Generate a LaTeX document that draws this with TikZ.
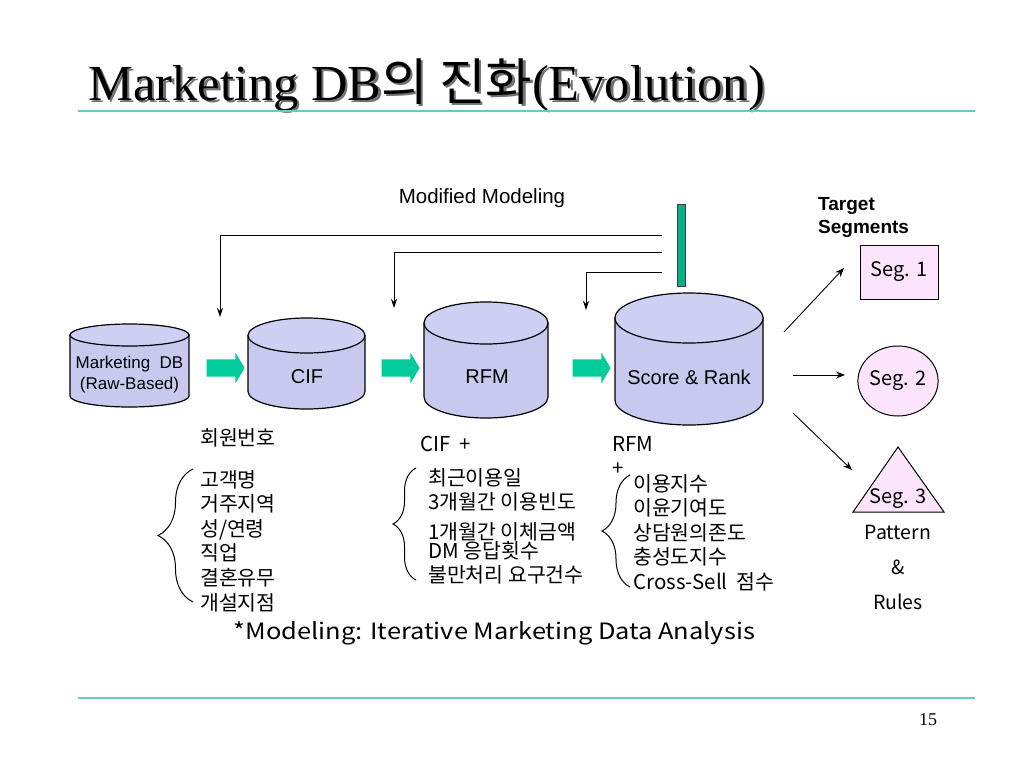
\documentclass[tikz,border=0pt]{standalone}
\usepackage{graphicx}
\usepackage{fontspec}
\setmainfont{Liberation Sans}
\newfontfamily\krfont{Noto Sans CJK KR}
\newfontfamily\serifttl{Liberation Serif}
\usetikzlibrary{arrows.meta,positioning,shapes.geometric,shapes.arrows,decorations.pathreplacing}
\definecolor{ruleteal}{HTML}{66CCC0}
\definecolor{drumside}{HTML}{C9C9F0}
\definecolor{drumlight}{HTML}{EAEAFC}
\definecolor{drumtop}{HTML}{CFCFF3}
\definecolor{flowgreen}{HTML}{00CC99}
\definecolor{barteal}{HTML}{00B383}
\definecolor{segpink}{HTML}{FCE4FC}
\newcommand{\kr}[1]{{\krfont #1}}
\newcommand{\ttltext}{Marketing DB\kr{의 진화}(Evolution)}
% #1 centre x, #2 top y, #3 bottom y, #4 half width, #5 end radius
\newcommand{\drum}[5]{%
  \path[drumline,left color=drumside,middle color=drumlight,right color=drumside]
    (#1-#4,#2-#5) -- (#1-#4,#3+#5) arc[start angle=180,end angle=360,x radius=#4,y radius=#5] -- (#1+#4,#2-#5) -- cycle;
  \path[drumline,fill=drumtop] (#1,#2-#5) ellipse[x radius=#4,y radius=#5];}

\begin{document}
\begin{tikzpicture}[x=1pt,y=1pt,
    drumline/.style={draw=black,line width=1.2pt},
    drumlbl/.style={font=\fontsize{20}{21}\selectfont,align=center,inner sep=0pt},
    flow/.style={single arrow,fill=flowgreen,inner xsep=0pt,inner ysep=8.5pt,minimum height=38pt,
      single arrow head extend=6.5pt,single arrow tip angle=118},
    arr/.style={-{Stealth[length=9pt,width=7pt]},line width=0.9pt},
    fback/.style={-{Stealth[length=9pt,width=6pt]},line width=1pt},
    list/.style={font=\krfont\fontsize{20.5}{24.6}\selectfont,align=left,anchor=north west,inner sep=0pt},
    seg/.style={draw,line width=1pt,fill=segpink,font=\krfont\fontsize{20}{20}\selectfont,inner sep=0pt},
    brc/.style={decorate,decoration={brace,amplitude=#1},line width=1pt}
  ]
  \useasboundingbox (0,0) rectangle (1024,-768);
  \fill[white] (0,0) rectangle (1024,-768);

  \node[anchor=base west,inner sep=0pt,font=\serifttl\fontsize{50.5}{51}\selectfont] (title) at (88,-100)
    {\makebox[0pt][l]{\hspace{2.5pt}\raisebox{-2.5pt}{\color{black!55}\ttltext}}\ttltext};
  \draw[ruleteal,line width=2pt] (78,-111) -- (975,-111);

  \drum{129.5}{-324}{-407}{59.5}{11}
  \drum{306.5}{-318}{-409}{58.5}{17.5}
  \drum{486}{-302}{-418}{62}{21}
  \drum{689}{-293}{-425}{74}{25}
  \node[drumlbl,font=\fontsize{17}{21}\selectfont] (mdb) at (129.5,-374.5) {Marketing\ \ DB\\(Raw-Based)};
  \node[drumlbl] (cif) at (307,-377) {CIF};
  \node[drumlbl] (rfm) at (487,-377) {RFM};
  \node[drumlbl] (score) at (689,-377) {Score \& Rank};

  \node[flow] (go1) at (223,-368) {};
  \node[flow] (go2) at (398,-368) {};
  \node[flow] (go3) at (589,-368) {};

  \node[draw=black!75,line width=0.8pt,fill=barteal,minimum width=8pt,minimum height=82pt,inner sep=0pt] (bar) at (681,-245) {};
  \node[font=\fontsize{20.5}{21}\selectfont] (modlbl) at (482,-198) {Modified Modeling};
  \coordinate (fb1) at (662,-235); \coordinate (in1) at (220,-317);
  \coordinate (fb2) at (662,-252); \coordinate (in2) at (394,-308);
  \coordinate (fb3) at (662,-272); \coordinate (in3) at (586,-310);
  \draw[fback] (fb1) -| (in1);
  \draw[fback] (fb2) -| (in2);
  \draw[fback] (fb3) -| (in3);

  \node[anchor=north west,align=left,inner sep=0pt,font=\bfseries\fontsize{19}{23}\selectfont] (tgt) at (818,-197) {Target\\Segments};
  \node[seg,minimum width=78pt,minimum height=54pt] (seg1) at (899,-272) {Seg. 1};
  \node[seg,ellipse,minimum width=78pt,minimum height=70pt] (seg2) at (898,-381) {Seg. 2};
  \draw[line width=1pt,fill=segpink] (898,-447) -- (944,-512) -- (853,-512) -- cycle;
  \node[font=\krfont\fontsize{20}{20}\selectfont] (seg3) at (898,-499) {Seg. 3};
  \node[align=center,font=\krfont\fontsize{19.5}{35}\selectfont] (rules) at (898,-567) {Pattern\\\&\\Rules};
  \coordinate (o1) at (784,-332); \coordinate (t1) at (844,-268);
  \coordinate (o2) at (793,-375); \coordinate (t2) at (845,-375);
  \coordinate (o3) at (793,-413); \coordinate (t3) at (852,-470);
  \draw[arr] (o1) -- (t1);
  \draw[arr] (o2) -- (t2);
  \draw[arr] (o3) -- (t3);

  \node[list] (cifhead) at (200,-428) {회원번호};
  \node[list] (ciflist) at (200,-470) {고객명\\거주지역\\성/연령\\직업\\결혼유무\\개설지점};
  \node[list] (rfmhead) at (420,-436) {CIF\ \ +};
  \node[list] (rfmlist) at (428,-468) {최근이용일\\3개월간 이용빈도\\[5pt]1개월간 이체금액\\[-5pt]DM 응답횟수\\[-1pt]불만처리 요구건수};
  \node[list] (scorehead) at (612,-436) {RFM\\+};
  \node[list] (scorelist) at (633,-474) {이용지수\\이윤기여도\\상담원의존도\\충성도지수\\Cross-Sell\ \ 점수};
  \draw[brc=35] (193,-602) -- (193,-469);
  \draw[brc=23] (416,-580) -- (416,-468);
  \draw[brc=28] (630,-587) -- (630,-475);

  \node[font=\krfont\fontsize{22.5}{23}\selectfont] (note) at (494.5,-633) {\scalebox{1.13}[1]{*Modeling: Iterative Marketing Data Analysis}};
  \draw[ruleteal,line width=1.5pt] (78,-698) -- (975,-698);
  \node[font=\serifttl\fontsize{18}{18}\selectfont] (pageno) at (928,-720) {15};
\end{tikzpicture}
\end{document}
